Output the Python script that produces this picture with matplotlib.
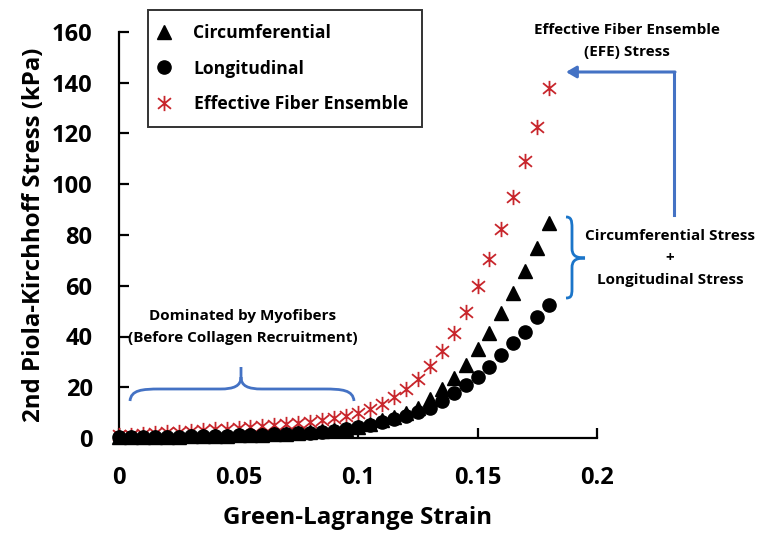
import matplotlib
matplotlib.use("Agg")
import matplotlib.pyplot as plt
from matplotlib.path import Path
from matplotlib.patches import PathPatch, FancyArrowPatch

plt.rcParams['font.family'] = ['Open Sans', 'DejaVu Sans']
plt.rcParams['font.weight'] = 'bold'

strain = [0.000, 0.005, 0.010, 0.015, 0.020, 0.025, 0.030, 0.035, 0.040, 0.045,
          0.050, 0.055, 0.060, 0.065, 0.070, 0.075, 0.080, 0.085, 0.090, 0.095,
          0.100, 0.105, 0.110, 0.115, 0.120, 0.125, 0.130, 0.135, 0.140, 0.145,
          0.150, 0.155, 0.160, 0.165, 0.170, 0.175, 0.180]

circumferential = [0.3, 0.35, 0.4, 0.45, 0.5, 0.55, 0.6, 0.7, 0.8, 0.9,
                   1.0, 1.1, 1.25, 1.4, 1.6, 1.85, 2.2, 2.6, 3.1, 3.7,
                   4.5, 5.6, 7.0, 8.4, 9.9, 11.8, 15.4, 19.2, 23.5, 28.8,
                   35.0, 41.5, 49.1, 57.3, 65.9, 74.8, 84.6]

longitudinal = [0.3, 0.35, 0.4, 0.45, 0.5, 0.55, 0.6, 0.7, 0.8, 0.9,
                1.0, 1.1, 1.25, 1.4, 1.6, 1.8, 2.1, 2.5, 2.9, 3.5,
                4.2, 5.2, 6.2, 7.3, 8.6, 10.1, 11.9, 14.7, 17.6, 20.9,
                23.9, 28.1, 32.7, 37.3, 41.9, 47.8, 52.3]

efe = [1.0, 1.3, 1.6, 1.9, 2.2, 2.5, 2.8, 3.1, 3.4, 3.7,
       4.0, 4.3, 4.6, 5.0, 5.4, 5.9, 6.4, 7.0, 7.7, 8.6,
       9.7, 11.5, 13.5, 16.0, 19.2, 23.1, 28.4, 34.3, 41.5, 49.8,
       59.9, 70.4, 82.2, 95.0, 109.0, 122.6, 137.9]

x_ticks = [0, 0.05, 0.1, 0.15, 0.2]
x_ticklabels = ['0', '0.05', '0.1', '0.15', '0.2']
y_ticks = [0, 20, 40, 60, 80, 100, 120, 140, 160]

W, H = 759, 533
fig = plt.figure(figsize=(W / 100, H / 100), dpi=100)
ax = fig.add_axes([119 / W, 1 - 438 / H, (597 - 119) / W, (438 - 32) / H])

red = '#C8262C'
ast = Path([(0, -1), (0, 1), (-0.85, -0.7), (0.85, 0.7), (-0.85, 0.7), (0.85, -0.7)],
           [Path.MOVETO, Path.LINETO, Path.MOVETO, Path.LINETO, Path.MOVETO, Path.LINETO])

ax.plot(strain, efe, linestyle='none', marker=ast, markersize=11, markeredgewidth=1.3,
        color=red, clip_on=False, zorder=3, label='Effective Fiber Ensemble')
ax.plot(strain, circumferential, linestyle='none', marker='^', markersize=9.5,
        color='black', clip_on=False, zorder=4, label='Circumferential')
ax.plot(strain, longitudinal, linestyle='none', marker='o', markersize=9.5,
        color='black', clip_on=False, zorder=5, label='Longitudinal')

ax.set_xlim(0, 0.2)
ax.set_ylim(0, 160)
ax.set_xticks(x_ticks)
ax.set_xticklabels(x_ticklabels)
ax.set_yticks(y_ticks)
for s in ['top', 'right']:
    ax.spines[s].set_visible(False)
for s in ['left', 'bottom']:
    ax.spines[s].set_linewidth(1.6)
ax.tick_params(axis='both', direction='in', length=7, width=1.6, labelsize=17)
ax.tick_params(axis='x', pad=20)
ax.tick_params(axis='y', pad=19)
for lab in ax.get_xticklabels() + ax.get_yticklabels():
    lab.set_fontweight('bold')

ax.set_xlabel('Green-Lagrange Strain', fontsize=17.4, fontweight='bold', labelpad=12)
ax.set_ylabel('2nd Piola-Kirchhoff Stress (kPa)', fontsize=17.3, fontweight='bold', labelpad=4)

handles, labels = ax.get_legend_handles_labels()
order = [1, 2, 0]
leg = fig.legend([handles[i] for i in order], [labels[i] for i in order],
                 loc='upper left', bbox_to_anchor=(148 / W, 1 - 10 / H),
                 bbox_transform=fig.transFigure, borderaxespad=0,
                 frameon=True, fancybox=False, edgecolor='black',
                 prop={'size': 12.6, 'weight': 'bold'}, labelspacing=1.0,
                 handletextpad=1.6, borderpad=0.8, handlelength=0.2)
leg.get_frame().set_linewidth(1.4)


def px(x, y):
    return (x / W, 1 - y / H)


blue = '#4472C4'
blue2 = '#1B75C9'

# bottom horizontal brace
verts = [px(130, 401), px(131, 390), px(142, 389), px(160, 389),
         px(220, 389),
         px(234, 389), px(241, 386), px(241, 377),
         px(241, 367),
         px(241, 377),
         px(241, 386), px(248, 389), px(262, 389),
         px(324, 389),
         px(342, 389), px(353, 390), px(354, 401)]
codes = [Path.MOVETO, Path.CURVE4, Path.CURVE4, Path.CURVE4,
         Path.LINETO,
         Path.CURVE4, Path.CURVE4, Path.CURVE4,
         Path.LINETO,
         Path.MOVETO,
         Path.CURVE4, Path.CURVE4, Path.CURVE4,
         Path.LINETO,
         Path.CURVE4, Path.CURVE4, Path.CURVE4]
fig.add_artist(PathPatch(Path(verts, codes), transform=fig.transFigure,
                         fill=False, edgecolor=blue, linewidth=2.0))

# right vertical brace
verts = [px(566, 217), px(571, 217), px(572, 220), px(572, 228),
         px(572, 248),
         px(572, 255), px(575, 258), px(585, 258),
         px(575, 258), px(572, 261), px(572, 268),
         px(572, 289),
         px(572, 296), px(571, 298), px(566, 298)]
codes = [Path.MOVETO, Path.CURVE4, Path.CURVE4, Path.CURVE4,
         Path.LINETO,
         Path.CURVE4, Path.CURVE4, Path.CURVE4,
         Path.CURVE4, Path.CURVE4, Path.CURVE4,
         Path.LINETO,
         Path.CURVE4, Path.CURVE4, Path.CURVE4]
fig.add_artist(PathPatch(Path(verts, codes), transform=fig.transFigure,
                         fill=False, edgecolor=blue2, linewidth=2.0))

# elbow arrow
fig.add_artist(plt.Line2D([px(674, 215)[0], px(674, 72)[0]],
                          [px(674, 215)[1], px(674, 72)[1]],
                          transform=fig.transFigure, color=blue, linewidth=2.2))
arr = FancyArrowPatch(px(675, 72), px(566, 72), transform=fig.transFigure,
                      arrowstyle='-|>,head_length=6,head_width=3.5',
                      color=blue, linewidth=2.2, shrinkA=0, shrinkB=0)
fig.add_artist(arr)

fig.text(*px(627, 41), 'Effective Fiber Ensemble\n(EFE) Stress', ha='center', va='center',
         fontsize=11, fontweight='bold', linespacing=1.75)
fig.text(*px(670, 258), 'Circumferential Stress\n+\nLongitudinal Stress', ha='center',
         va='center', fontsize=11, fontweight='bold', linespacing=1.75)
fig.text(*px(243, 327), 'Dominated by Myofibers\n(Before Collagen Recruitment)', ha='center',
         va='center', fontsize=11, fontweight='bold', linespacing=1.75)

fig.savefig('out.png', dpi=100)
